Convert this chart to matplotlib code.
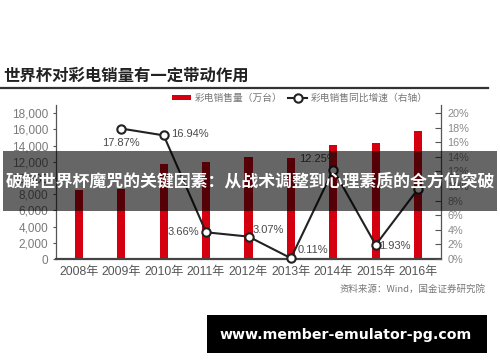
import numpy as np
import matplotlib
matplotlib.use("Agg")
import matplotlib.pyplot as plt
from matplotlib.patches import Rectangle
from matplotlib.lines import Line2D
from matplotlib.patches import Patch

years = ["2008年", "2009年", "2010年", "2011年", "2012年", "2013年", "2014年", "2015年", "2016年"]
sales = [8500, 8600, 11700, 12000, 12600, 12450, 14050, 14300, 15800]
growth = [np.nan, 17.87, 16.94, 3.66, 3.07, 0.11, 12.25, 1.93, 9.6]
growth_labels = ["", "17.87%", "16.94%", "3.66%", "3.07%", "0.11%", "12.25%", "1.93%", ""]
left_ticks = list(range(0, 18001, 2000))
right_ticks = list(range(0, 21, 2))

CJK = ["Noto Sans CJK SC", "DejaVu Sans"]
NUM = ["Liberation Sans", "Noto Sans CJK SC", "DejaVu Sans"]
plt.rcParams["font.family"] = NUM

W, H = 500, 362
fig = plt.figure(figsize=(W / 100, H / 100), dpi=100)

def fx(px):
    return px / W

def fy(py):
    return 1 - py / H

ax = fig.add_axes([fx(56), fy(259), fx(441) - fx(56), fy(105) - fy(259)])
x = np.arange(len(years))
ax.bar(x, sales, width=0.19, color="#d4000f", zorder=2)
ax.set_xlim(-0.54, len(years) - 1 + 0.54)
ax.set_ylim(0, 19000)
ax.set_yticks(left_ticks)
ax.set_yticklabels([f"{v:,}" for v in left_ticks])
ax.set_xticks(x)
ax.set_xticklabels(years)
ax.tick_params(axis="x", length=0, pad=5, labelsize=8.7, labelcolor="#555555")
ax.tick_params(axis="y", length=2.5, width=0.8, color="#555555", pad=3,
               labelsize=8.5, labelcolor="#7a7a7a")
for lab in ax.get_xticklabels():
    lab.set_family(NUM)
ax.spines["top"].set_visible(False)
ax.spines["right"].set_visible(False)
ax.spines["left"].set_color("#555555")
ax.spines["left"].set_linewidth(0.9)
ax.spines["bottom"].set_color("#444444")
ax.spines["bottom"].set_linewidth(1.6)

ax2 = ax.twinx()
ax2.plot(x, growth, color="#222222", lw=1.5, marker="o", markersize=6,
         markerfacecolor="white", markeredgecolor="#222222", markeredgewidth=1.5,
         zorder=3, clip_on=False)
ax2.set_ylim(0, 21.1)
ax2.set_yticks(right_ticks)
ax2.set_yticklabels([f"{v}%" for v in right_ticks])
ax2.tick_params(axis="y", direction="in", length=4, width=0.8, color="#555555",
                pad=4.5, labelsize=7.8, labelcolor="#8a8a8a")
ax2.spines["top"].set_visible(False)
ax2.spines["left"].set_visible(False)
ax2.spines["bottom"].set_visible(False)
ax2.spines["right"].set_color("#555555")
ax2.spines["right"].set_linewidth(0.9)

# label offsets in pixels (dx, dy, ha)
offsets = {1: (0, -14, "center"), 2: (7, 1, "left"), 3: (-7, 0, "right"),
           4: (4, 7, "left"), 5: (7, 8, "left"), 6: (-15, 11, "center"),
           7: (3, -1, "left")}
for i, (dx, dy, ha) in offsets.items():
    ax2.annotate(growth_labels[i], (x[i], growth[i]), xytext=(dx * 0.72, dy * 0.72),
                 textcoords="offset points", ha=ha, va="center", fontsize=8,
                 color="#4a4a4a", zorder=4)

# title and rule
fig.text(fx(3), fy(76), "世界杯对彩电销量有一定带动作用", family=CJK, fontsize=11.8,
         fontweight="bold", color="#222222", ha="left", va="center")
fig.add_artist(Line2D([fx(0), fx(488)], [fy(87.5), fy(87.5)], color="#333333", lw=1.6))

# legend
handles = [Patch(facecolor="#d4000f", edgecolor="none"),
           Line2D([0], [0], color="#222222", lw=1.5, marker="o", markersize=6,
                  markerfacecolor="white", markeredgecolor="#222222", markeredgewidth=1.5)]
leg = fig.legend(handles, ["彩电销售量（万台）", "彩电销售同比增速（右轴）"], ncol=2,
                 loc="center", bbox_to_anchor=(fx(300), fy(98)), frameon=False,
                 prop={"family": CJK, "size": 7}, handlelength=1.9, handleheight=0.5,
                 columnspacing=0.6, handletextpad=0.4)
for t in leg.get_texts():
    t.set_color("#777777")

# source
fig.text(fx(485), fy(289), "资料来源：Wind，国金证券研究院", family=CJK, fontsize=6.8,
         color="#777777", ha="right", va="center")

# overlay banner
fig.add_artist(Rectangle((fx(3), fy(211)), fx(497) - fx(3), fy(151) - fy(211),
                         transform=fig.transFigure, facecolor="black", alpha=0.6,
                         edgecolor="none", zorder=10))
fig.text(fx(250), fy(181), "破解世界杯魔咒的关键因素：从战术调整到心理素质的全方位突破",
         family=CJK, fontsize=12.2, fontweight="bold", color="white",
         ha="center", va="center", zorder=11)

# url badge
fig.add_artist(Rectangle((fx(207), fy(353)), fx(487) - fx(207), fy(315) - fy(353),
                         transform=fig.transFigure, facecolor="black",
                         edgecolor="none", zorder=10))
fig.text(fx(346), fy(335), "www.member-emulator-pg.com", family=["DejaVu Sans"],
         fontsize=10.2, fontweight="bold", color="white", ha="center", va="center",
         zorder=11)

fig.savefig("out.png", dpi=100)
